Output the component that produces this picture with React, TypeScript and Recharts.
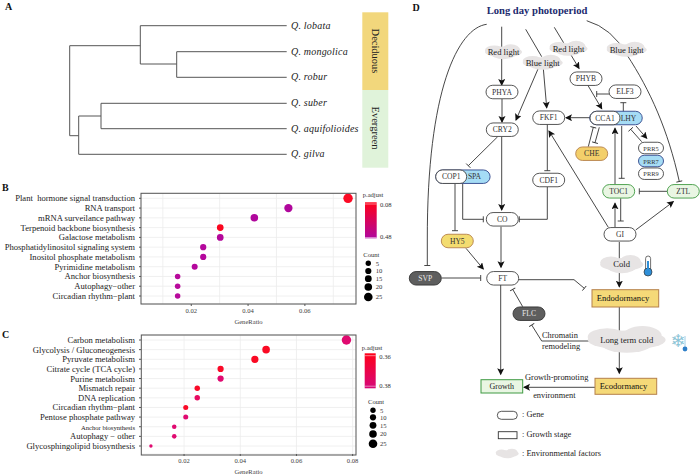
import React from 'react';
import { ScatterChart, Scatter, XAxis, YAxis, ZAxis, CartesianGrid, Cell } from 'recharts';

const SERIF = '"Liberation Serif", serif';

// panel B
const bNames = [
  'Plant \u00a0hormone signal transduction', 'RNA transport', 'mRNA surveilance pathway',
  'Terpenoid backbone biosynthesis', 'Galactose metabolism', 'Phosphatidylinositol signaling system',
  'Inositol phosphate metabolism', 'Pyrimidine metabolism', 'Anchor biosynthesis',
  'Autophagy\u2212other', 'Circadian rhythm\u2212plant',
];
const bRatio = [0.0752, 0.0542, 0.0422, 0.0302, 0.0302, 0.0242, 0.0242, 0.0212, 0.0152, 0.0152, 0.0152];
const bCount = [25, 18, 14, 10, 10, 8, 8, 7, 5, 5, 5];
const bColor = ['#fb0a24', '#b0079c', '#b0079c', '#fb0620', '#b4079a', '#b4079c', '#b4079c', '#b4079c', '#b80a9c', '#b80a9c', '#b80a9c'];

// panel C
const cNames = [
  'Carbon metabolism', 'Glycolysis / Gluconeogenesis', 'Pyruvate metabolism', 'Citrate cycle (TCA cycle)',
  'Purine metabolism', 'Mismatch repair', 'DNA replication', 'Circadian rhythm\u2212plant',
  'Pentose phosphate pathway', 'Anchor biosynthesis', 'Autophagy \u2212 other', 'Glycosphingolipid biosynthesis',
];
const cRatio = [0.0778, 0.0492, 0.0452, 0.033, 0.033, 0.0247, 0.0247, 0.0206, 0.0206, 0.0165, 0.0165, 0.0082];
const cCount = [19, 12, 11, 8, 8, 6, 6, 5, 5, 4, 4, 2];
const cColor = ['#e00a70', '#fa0a24', '#fa0a24', '#fa0a28', '#e00a70', '#fa0a28', '#e80a60', '#fa0a28', '#e00a70', '#e00a70', '#e00a70', '#e00a70'];

const minorTicks = [0.01, 0.02, 0.03, 0.04, 0.05, 0.06, 0.07, 0.08];
const legendCounts = ['5', '10', '15', '20', '25'];

const species = ['Q. lobata', 'Q. mongolica', 'Q. robur', 'Q. suber', 'Q. aquifolioides', 'Q. gilva'];

function DotPlot({ names, ratio, count, color, top, height, marginTop, domain, ticks, zDomain, zRange, small }: any) {
  const rows = names.map((name: string, i: number) => ({ name, ratio: ratio[i], count: count[i] }));
  const renderTick = (p: any) => {
    const tiny = small && p.payload.value === 'Anchor biosynthesis';
    return (
      <text x={p.x - 1} y={p.y + 3} textAnchor="end" fontFamily={SERIF} fontSize={tiny ? 6.6 : 8.6} fill="#222">
        {p.payload.value}
      </text>
    );
  };
  return (
    <div style={{ position: 'absolute', left: 0, top }}>
      <ScatterChart width={360} height={height} margin={{ top: marginTop, right: 4, bottom: 0, left: 0 }}>
        <CartesianGrid stroke="#ececec" strokeWidth={0.8} verticalValues={minorTicks.filter((t) => t > domain[0] && t < domain[1])} />
        <XAxis
          type="number"
          dataKey="ratio"
          domain={domain}
          ticks={ticks}
          allowDataOverflow
          height={21}
          tick={{ fontFamily: SERIF, fontSize: 6.6, fill: '#444' }}
          tickSize={2}
          tickLine={{ stroke: '#555' }}
          axisLine={false}
          tickFormatter={(v: number) => v.toFixed(2)}
          label={{ value: 'GeneRatio', position: 'insideBottom', offset: 1, fontFamily: SERIF, fontSize: 6.6, fill: '#444' }}
        />
        <YAxis
          type="category"
          dataKey="name"
          scale="point"
          reversed
          allowDuplicatedCategory={false}
          width={141}
          padding={{ top: 5, bottom: 8 }}
          interval={0}
          tick={renderTick}
          tickSize={2}
          tickMargin={3}
          tickLine={{ stroke: '#555' }}
          axisLine={false}
        />
        <ZAxis type="number" dataKey="count" domain={zDomain} range={zRange} />
        <Scatter data={rows} isAnimationActive={false}>
          {rows.map((r: any, i: number) => (
            <Cell key={r.name} fill={color[i]} />
          ))}
        </Scatter>
      </ScatterChart>
    </div>
  );
}

const Pill = ({ x, y, w = 32, h = 13.5, fill = '#fff', stroke = '#444', text, color = '#333', size = 7.6 }: any) => (
  <g>
    <rect x={x - w / 2} y={y - h / 2} width={w} height={h} rx={h / 2} fill={fill} stroke={stroke} strokeWidth={0.9} />
    {text && (
      <text x={x} y={y + 2.6} textAnchor="middle" fontSize={size} fill={color}>
        {text}
      </text>
    )}
  </g>
);

const Cloud = ({ x, y, w, h, text, size = 8.6 }: any) => (
  <g>
    <ellipse cx={x} cy={y} rx={w / 2} ry={h / 2.6} fill="#e7e4e4" />
    <ellipse cx={x - w / 4} cy={y - h / 8} rx={w / 4} ry={h / 2.9} fill="#e7e4e4" />
    <ellipse cx={x + w / 5} cy={y - h / 7} rx={w / 4} ry={h / 2.4} fill="#e7e4e4" />
    <ellipse cx={x} cy={y + h / 8} rx={w / 3} ry={h / 2.6} fill="#e7e4e4" />
    {text && (
      <text x={x} y={y + 2.8} textAnchor="middle" fontSize={size} fill="#222">
        {text}
      </text>
    )}
  </g>
);

const arrowPaths = [
  'M501.7 26.7V85', 'M502 99V122', 'M501.7 136.7V210', 'M501 226.7V267.3', 'M466 248.3L483.3 269',
  'M538.3 68.3L516 120', 'M543.3 68.3L546.7 107.7', 'M554.3 27.3L579 68.3', 'M587.7 85L601.7 108.7',
  'M590 117.7H566', 'M608.3 227.3L549 131', 'M615 227V203.3', 'M635.7 230L673.3 201.7', 'M615 184V128.3',
  'M636 126L646.7 138.3', 'M500.7 285V374.3', 'M619.3 307V373.3', 'M595 387.3H524', 'M619.3 242V286.7',
];
const barPaths = [
  'M486.7 24.3C458 28 427 90 427.3 240V265.5', 'M586.7 20.7Q612 28 627 55C650 90 668 130 679.3 181.5',
  'M497.7 136.7L468.3 165.7', 'M610 94H596.7', 'M547.3 124V170.7', 'M547.3 186.7V219.3H519.3',
  'M455 183.3V230.7', 'M462.7 184V219.3H483.3', 'M441.7 278H480.7', 'M522.7 306.7L512.7 289.3',
  'M518.7 279.7H574L584.3 288.3', 'M590 341H541.7L531.7 325', 'M620.7 198.3V221', 'M667.7 191.3H639.3',
  'M621.7 126V178.3', 'M623.3 111.7V102.7', 'M588.3 146.7L593.3 127.3', 'M599.3 127.3L595 142.7',
  'M641.7 141.7L630.7 129.3',
];
const plainPaths = ['M525.7 29.3L541.7 56.7'];

function Pathway() {
  return (
    <g fontFamily={SERIF}>
      <defs>
        <marker id="arr" markerUnits="userSpaceOnUse" markerWidth="8" markerHeight="8" refX="6" refY="3.5" orient="auto">
          <path d="M0 0L7 3.5L0 7L1.5 3.5Z" fill="#111" />
        </marker>
        <marker id="bar" markerUnits="userSpaceOnUse" markerWidth="3" markerHeight="8" refX="1.5" refY="4" orient="auto">
          <path d="M1.5 1V7" stroke="#333" strokeWidth="0.9" />
        </marker>
      </defs>
      <text x={416} y={11} fontSize={10} fontWeight="bold" textAnchor="middle" fill="#111">D</text>
      <text x={537} y={13.5} fontSize={10.6} fontWeight="bold" textAnchor="middle" fill="#1c2a6e">Long day photoperiod</text>

      {plainPaths.map((d) => <path key={d} d={d} fill="none" stroke="#333" strokeWidth={0.9} />)}
      {arrowPaths.map((d) => <path key={d} d={d} fill="none" stroke="#333" strokeWidth={0.9} markerEnd="url(#arr)" />)}
      {barPaths.map((d) => <path key={d} d={d} fill="none" stroke="#333" strokeWidth={0.9} markerEnd="url(#bar)" />)}

      <Cloud x={503.5} y={52} w={37} h={14} text="Red light" />
      <Cloud x={542.7} y={62.7} w={40} h={14} text="Blue light" />
      <Cloud x={568.5} y={48.7} w={38} h={14} text="Red light" />
      <Cloud x={626.7} y={49.7} w={40} h={14} text="Blue light" />
      <Cloud x={621.7} y={264.5} w={43} h={17} text="Cold" />
      <Cloud x={626.7} y={340} w={78} h={25} text="Long term cold" size={8.6} />

      <Pill x={502} y={92} text="PHYA" />
      <Pill x={502.3} y={129.7} text="CRY2" />
      <Pill x={586} y={78.7} text="PHYB" />
      <Pill x={625} y={91.7} text="ELF3" />
      <Pill x={548.7} y={117.7} text="FKF1" />
      <Pill x={616} y={118} w={52.5} fill="#a5dcf5" stroke="#30458a" />
      <text x={628.5} y={120.6} textAnchor="middle" fontSize={7.6} fill="#333">LHY</text>
      <Pill x={605} y={118} w={30} text="CCA1" />
      <Pill x={591.7} y={153.7} fill="#f3cf6a" stroke="#b5804a" text="CHE" />
      <Pill x={651} y={148} w={25} h={11.5} text="PRR5" size={6.4} />
      <Pill x={651} y={161} w={25} h={11.5} fill="#a5dcf5" stroke="#30458a" text="PRR7" size={6.4} />
      <Pill x={651} y={173.7} w={25} h={11.5} text="PRR9" size={6.4} />
      <Pill x={462.9} y={176.7} w={54.4} fill="#a5dcf5" stroke="#30458a" />
      <text x={474.5} y={179.3} textAnchor="middle" fontSize={7.6} fill="#333">SPA</text>
      <Pill x={451.2} y={176.7} w={31} text="COP1" />
      <Pill x={548.7} y={180} text="CDF1" />
      <Pill x={618.7} y={191.3} fill="#e9f6e3" stroke="#3f9a42" text="TOC1" />
      <Pill x={683.3} y={191.3} fill="#e9f6e3" stroke="#3f9a42" text="ZTL" />
      <Pill x={502.3} y={219.3} text="CO" />
      <Pill x={620} y={234.3} text="GI" />
      <Pill x={457.3} y={241} fill="#f3dc70" stroke="#b5804a" text="HY5" />
      <Pill x={425.3} y={278.3} fill="#5e5e5e" stroke="#333" text="SVP" color="#e8e8e8" />
      <Pill x={502.7} y={278.3} text="FT" />
      <Pill x={529} y={313.7} fill="#5e5e5e" stroke="#333" text="FLC" color="#e8e8e8" />

      <rect x={592} y={289.7} width={66.7} height={17.3} fill="#f5d978" stroke="#b5804a" />
      <text x={623} y={301} textAnchor="middle" fontSize={8.6} fill="#111">Endodormancy</text>
      <rect x={595} y={378.3} width={61.7} height={16} fill="#f5d978" stroke="#b5804a" />
      <text x={623.5} y={389} textAnchor="middle" fontSize={8.6} fill="#111">Ecodormancy</text>
      <rect x={481} y={379.7} width={41.7} height={13.3} fill="#e9f6e3" stroke="#3f9a42" />
      <text x={501.7} y={389} textAnchor="middle" fontSize={8} fill="#222">Growth</text>

      <text x={542} y={338} fontSize={8.4} fill="#222">Chromatin</text>
      <text x={542} y={349} fontSize={8.4} fill="#222">remodeling</text>
      <text x={556.7} y={380} textAnchor="middle" fontSize={8.4} fill="#222">Growth-promoting</text>
      <text x={554.3} y={398} textAnchor="middle" fontSize={8.4} fill="#222">environment</text>

      {/* thermometer */}
      <rect x={645.6} y={256} width={5} height={17} rx={2.5} fill="#fff" stroke="#333" strokeWidth={0.7} />
      <circle cx={648} cy={272} r={4} fill="#2e8fd8" stroke="#333" strokeWidth={0.7} />
      <rect x={647} y={261} width={2} height={10} fill="#2e8fd8" />
      {/* snowflake */}
      <text x={678} y={347} textAnchor="middle" fontSize={18} fontFamily="DejaVu Sans" fill="#8cc4d6">{'\u2744'}</text>
      <rect x={684} y={336} width={2} height={12} fill="#cfe6f2" />
      <circle cx={685} cy={349} r={2.4} fill="#2e7fc8" />

      <Pill x={507.3} y={415.3} w={20} h={8} />
      <text x={522} y={417} fontSize={8.4} fill="#222">: Gene</text>
      <rect x={498.3} y={431.7} width={18.7} height={7} fill="#fff" stroke="#333" strokeWidth={0.9} />
      <text x={522} y={437} fontSize={8.4} fill="#222">: Growth stage</text>
      <Cloud x={507.3} y={453.7} w={23} h={9} />
      <text x={522} y={456} fontSize={8.4} fill="#222">: Environmental factors</text>
    </g>
  );
}

function Tree() {
  const lines = [
    'M69.7 45.7V135.7', 'M69.7 45.7H140.3', 'M140.3 25.7V64', 'M140.3 25.7H286.7', 'M140.3 64H176.7',
    'M176.7 51.7V77.3', 'M176.7 51.7H286.7', 'M176.7 77.3H286.7', 'M69.7 135.7H78.7', 'M78.7 116V154.3',
    'M78.7 154.3H286.7', 'M78.7 116H101', 'M101 103.3V128.7', 'M101 103.3H286.7', 'M101 128.7H286.7',
  ];
  const labelY = [29, 54.5, 80, 106, 132, 156.5];
  return (
    <g fontFamily={SERIF}>
      <text x={5} y={10} fontSize={10} fontWeight="bold" fill="#111">A</text>
      {lines.map((d) => <path key={d} d={d} fill="none" stroke="#555" strokeWidth={1} />)}
      {species.map((s, i) => (
        <text key={s} x={291} y={labelY[i]} fontSize={10} fontStyle="italic" fill="#222" letterSpacing={0.2}>{s}</text>
      ))}
      <rect x={362.3} y={12.3} width={26} height={77.7} fill="#f2d77c" />
      <rect x={362.3} y={90} width={26} height={77.7} fill="#e0f3da" />
      <text transform="translate(371.5 51) rotate(90)" textAnchor="middle" fontSize={10.5} fill="#222">Deciduous</text>
      <text transform="translate(371.5 128) rotate(90)" textAnchor="middle" fontSize={10.5} fill="#222">Evergreen</text>
    </g>
  );
}

function LegendBlock({ id, barX, barY, barW, barH, top, low, titleX, titleY, hiY, loY, labelX, labels, countX, countY, dotX, dotYs, radii, numX }: any) {
  return (
    <g fontFamily={SERIF} fill="#333">
      <defs>
        <linearGradient id={id} x1="0" y1="0" x2="0" y2="1">
          <stop offset="0" stopColor={top} />
          <stop offset="1" stopColor={low} />
        </linearGradient>
      </defs>
      <text x={titleX} y={titleY} fontSize={6.6}>p.adjust</text>
      <rect x={barX} y={barY} width={barW} height={barH} fill={`url(#${id})`} />
      <path d={`M${barX} ${hiY - 3}h${barW}M${barX} ${loY + 0.5}h${barW}`} stroke="#fff" strokeWidth={0.5} />
      <text x={labelX} y={hiY} fontSize={6.6}>{labels[0]}</text>
      <text x={labelX} y={loY + 2} fontSize={6.6}>{labels[1]}</text>
      <text x={countX} y={countY} fontSize={6.6}>Count</text>
      {legendCounts.map((c, i) => (
        <g key={c}>
          <circle cx={dotX} cy={dotYs[i]} r={radii[i]} fill="#000" />
          <text x={numX} y={dotYs[i] + 2.2} fontSize={6.6}>{c}</text>
        </g>
      ))}
    </g>
  );
}

export default function App() {
  return (
    <div style={{ position: 'absolute', left: 0, top: 0, width: 700, height: 475, background: '#fff', overflow: 'hidden' }}>
      <DotPlot
        names={bNames} ratio={bRatio} count={bCount} color={bColor}
        top={185} height={140} marginTop={8.3}
        domain={[0.0023, 0.078]} ticks={[0.02, 0.04, 0.06]}
        zDomain={[5, 25]} zRange={[24, 70]}
      />
      <DotPlot
        names={cNames} ratio={cRatio} count={cCount} color={cColor}
        top={328} height={147} marginTop={7}
        domain={[0.00467, 0.0812]} ticks={[0.02, 0.04, 0.06, 0.08]}
        zDomain={[2, 19]} zRange={[9, 70]} small
      />
      <svg width={700} height={475} style={{ position: 'absolute', left: 0, top: 0, pointerEvents: 'none' }}>
        <Tree />
        <text x={2} y={191} fontFamily={SERIF} fontSize={10} fontWeight="bold" fill="#111">B</text>
        <text x={2} y={338} fontFamily={SERIF} fontSize={10} fontWeight="bold" fill="#111">C</text>
        <rect x={141} y={193.3} width={215} height={110.7} fill="none" stroke="#555" strokeWidth={1} />
        <rect x={141.3} y={335} width={214.7} height={120} fill="none" stroke="#555" strokeWidth={1} />
        <LegendBlock
          id="gradB" barX={365} barY={202.3} barW={11.7} barH={36} top="#ff0018" low="#b0089e"
          titleX={362.7} titleY={197} hiY={207} loY={237} labelX={380} labels={['0.08', '0.48']}
          countX={363.3} countY={257} dotX={368.3} dotYs={[263.3, 271, 278.7, 287, 297]} radii={[2.7, 3.1, 3.4, 3.8, 4.3]} numX={375.7}
        />
        <LegendBlock
          id="gradC" barX={364.7} barY={353.3} barW={11} barH={35} top="#ff0018" low="#d6087a"
          titleX={361.7} titleY={349.7} hiY={358.7} loY={385.7} labelX={379.3} labels={['0.36', '0.38']}
          countX={368} countY={404.3} dotX={373} dotYs={[410.3, 417.3, 425.3, 434, 443.7]} radii={[2.7, 3.1, 3.4, 3.8, 4.3]} numX={380}
        />
        <Pathway />
      </svg>
    </div>
  );
}
